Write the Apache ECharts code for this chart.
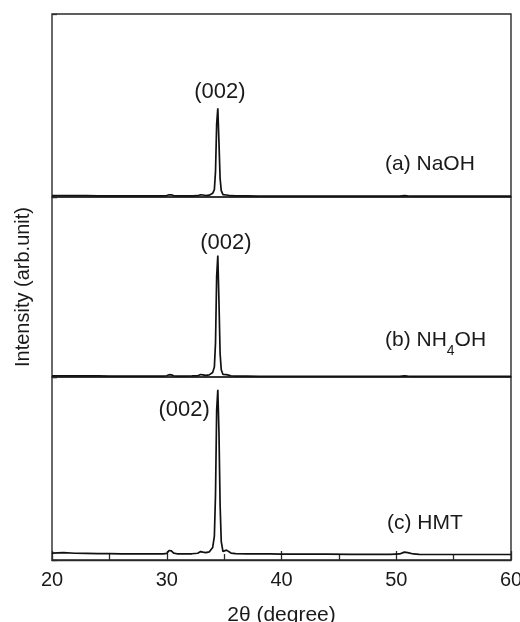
<!DOCTYPE html>
<html>
<head>
<meta charset="utf-8">
<script src="https://cdn.jsdelivr.net/npm/echarts@6/dist/echarts.min.js"></script>
<style>
html,body{margin:0;padding:0;background:#fff;}
#chart{width:520px;height:622px;}
</style>
</head>
<body>
<div id="chart"></div>
<script>
// 2θ sample positions (degree)
const twoTheta = [20, 21, 22, 23, 24, 25, 26, 27, 28, 29, 29.7, 30.0, 30.2, 30.4, 30.6, 30.9, 31.5, 32.2, 32.7, 32.95, 33.15, 33.4, 33.7, 34.0, 34.15, 34.25, 34.35, 34.45, 34.55, 34.65, 34.75, 34.9, 35.05, 35.2, 35.35, 35.6, 36, 37, 38, 39, 40, 42, 44, 46, 48, 49.5, 50.3, 50.7, 51.0, 51.5, 52, 54, 56, 58, 60];

// Intensities (arb. unit), each panel on its own 0–100 scale
const intensityNaOH = [0.7, 0.8, 0.7, 0.7, 0.6, 0.6, 0.6, 0.6, 0.6, 0.6, 0.6, 0.8, 1.2, 1.2, 0.8, 0.6, 0.6, 0.6, 0.7, 1.2, 1.1, 0.8, 1.0, 2.0, 4.0, 14, 40, 48.5, 30, 10, 3.5, 1.3, 0.9, 1.1, 0.9, 0.7, 0.6, 0.6, 0.5, 0.5, 0.5, 0.5, 0.5, 0.5, 0.5, 0.5, 0.5, 0.7, 0.6, 0.5, 0.5, 0.5, 0.5, 0.5, 0.5];
const intensityNH4OH = [0.6, 0.7, 0.6, 0.6, 0.6, 0.5, 0.5, 0.5, 0.5, 0.5, 0.5, 0.7, 1.3, 1.2, 0.7, 0.5, 0.5, 0.6, 0.7, 1.4, 1.2, 0.9, 1.2, 2.5, 5.5, 19, 56, 67.5, 42, 13, 4.0, 1.4, 1.0, 1.3, 1.0, 0.7, 0.5, 0.5, 0.4, 0.4, 0.4, 0.4, 0.4, 0.4, 0.4, 0.4, 0.4, 0.6, 0.5, 0.4, 0.4, 0.4, 0.4, 0.4, 0.4];
const intensityHMT = [3.8, 4.0, 3.7, 3.6, 3.5, 3.5, 3.4, 3.4, 3.3, 3.3, 3.3, 3.6, 5.2, 5.0, 3.8, 3.4, 3.3, 3.4, 3.7, 4.6, 4.3, 4.0, 4.4, 6.8, 13, 36, 82, 93, 70, 30, 10, 4.6, 4.2, 5.4, 4.8, 3.8, 3.5, 3.4, 3.3, 3.3, 3.2, 3.2, 3.2, 3.1, 3.1, 3.1, 3.3, 4.3, 4.0, 3.3, 3.1, 3.0, 3.0, 3.0, 3.0];

const xTicks = [20, 30, 40, 50, 60];
const peakLabel = '(002)';
const sampleNames = ['(a) NaOH', '(b) NH4OH', '(c) HMT'];

const FONT = 'Liberation Sans, Arial, Helvetica, sans-serif';
const INK = '#1a1a1a';

function pairs(ys){ return twoTheta.map((x,i)=>[x, ys[i]]); }

const grids = [
  {left:52, right:9, top:14, height:183},
  {left:52, right:9, top:197, height:180},
  {left:52, right:9, top:377, height:183}
].map(g => Object.assign(g, {show:true, borderColor:'#2a2a2a', borderWidth:1.4, backgroundColor:'transparent', containLabel:false, outerBoundsMode:'none'}));

const xAxes = [0,1,2].map(i => ({
  type:'value', gridIndex:i, min:xTicks[0], max:xTicks[xTicks.length-1], interval:10,
  show: i === 2,
  axisLine:{show:true, lineStyle:{color:'#2a2a2a', width:1.4}},
  axisTick:{show:true, inside:true, length:9, lineStyle:{color:'#2a2a2a', width:1.3}},
  minorTick:{show:true, splitNumber:2, length:6, lineStyle:{color:'#2a2a2a', width:1.3}},
  splitLine:{show:false},
  axisLabel:{show:true, fontFamily:FONT, fontSize:20, color:INK, margin:10},
  name: i === 2 ? '2θ (degree)' : '',
  nameLocation:'middle', nameGap:45,
  nameTextStyle:{fontFamily:FONT, fontSize:21, color:INK}
}));

const yAxes = [0,1,2].map(i => ({
  type:'value', gridIndex:i, min:0, max:100, interval:100,
  axisLine:{show:false},
  axisTick:{show:true, inside:true, length:5, lineStyle:{color:'#2a2a2a', width:1.3}},
  axisLabel:{show:false},
  splitLine:{show:false},
  name: i === 1 ? 'Intensity (arb.unit)' : '',
  nameLocation:'middle', nameGap:19,
  nameTextStyle:{fontFamily:FONT, fontSize:20, color:INK}
}));

const labelOffsets = [[2,0],[8,3],[-3,20]];
const labelPositions = ['top','top','left'];

const series = [intensityNaOH, intensityNH4OH, intensityHMT].map((ys,i) => ({
  type:'line', xAxisIndex:i, yAxisIndex:i, data:pairs(ys),
  showSymbol:false, smooth:false, silent:true,
  lineStyle:{color:'#111', width:1.7},
  markPoint:{
    symbol:'circle', symbolSize:0, silent:true,
    data:[{type:'max'}],
    label:{show:true, formatter:peakLabel, position:labelPositions[i], distance:5, offset:labelOffsets[i],
           fontFamily:FONT, fontSize:22, color:INK}
  }
}));

const chart = echarts.init(document.getElementById('chart'), null, {renderer:'canvas'});
chart.setOption({
  animation:false,
  backgroundColor:'#fff',
  grid:grids, xAxis:xAxes, yAxis:yAxes, series:series,
  graphic:[
    {type:'text', left:385, top:154, style:{text:sampleNames[0], font:'21px '+FONT, fill:INK}},
    {type:'text', left:385, top:330, style:{
      text:'{n|(b) NH}{s|4}{n|OH}',
      rich:{
        n:{fontFamily:FONT, fontSize:21, fill:INK, verticalAlign:'bottom', padding:[0,0,7,0]},
        s:{fontFamily:FONT, fontSize:14, fill:INK, verticalAlign:'bottom'}
      }
    }},
    {type:'text', left:387, top:513, style:{text:sampleNames[2], font:'21px '+FONT, fill:INK}}
  ]
});
</script>
</body>
</html>
